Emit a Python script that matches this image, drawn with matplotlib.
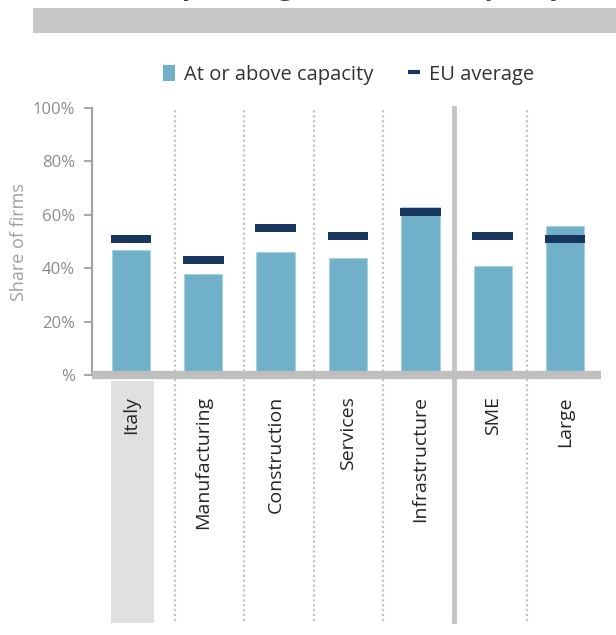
import matplotlib
matplotlib.use("Agg")
import matplotlib.pyplot as plt
from matplotlib.patches import Rectangle, Patch
from matplotlib.lines import Line2D
import matplotlib.transforms as mtransforms

plt.rcParams['font.family'] = ['Open Sans', 'DejaVu Sans']

# data (share of firms, %)
categories = ['Italy', 'Manufacturing', 'Construction', 'Services', 'Infrastructure', 'SME', 'Large']
at_capacity = [47, 38, 46, 44, 63, 41, 56]
eu_average = [51, 43, 55, 52, 61, 52, 51]
yticks = [0, 20, 40, 60, 80, 100]
ytick_labels = ['%', '20%', '40%', '60%', '80%', '100%']

bar_col = '#71b0c9'
eu_col = '#17375e'
grey_txt = '#8c8c8c'

fig = plt.figure(figsize=(6.16, 6.35), dpi=100)
ax = fig.add_axes([0.149, 0.409, 0.826, 0.421])

x = list(range(len(categories)))
ax.bar(x, at_capacity, width=0.53, color=bar_col, edgecolor='#a9d0e0', linewidth=0.8, zorder=2)
eu_bottom = [v - 1.5 for v in eu_average]
ax.bar(x, [3] * len(x), bottom=eu_bottom, width=0.56, color=eu_col, zorder=3)

ax.set_xlim(-0.54, 6.49)
ax.set_ylim(0, 100)

# separators (dotted between groups, solid between sector and size blocks)
trans = mtransforms.blended_transform_factory(ax.transData, ax.transAxes)
seps = [0.61, 1.56, 2.53, 3.48, 5.47]
for s in seps:
    ax.plot([s, s], [-0.92, 1.0], transform=trans, color='#c4c4c4', lw=1.6,
            ls=(0, (1, 1.2)), clip_on=False, zorder=1)
ax.plot([4.47, 4.47], [-0.92, 1.0], transform=trans, color='#c4c4c4', lw=3.5,
        clip_on=False, zorder=1)

# grey box behind Italy label
ax.add_patch(Rectangle((-0.28, -0.925), 0.6, 0.903, transform=trans,
                       facecolor='#e0e0e0', edgecolor='none', clip_on=False, zorder=0))

ax.set_xticks(x)
ax.set_xticklabels(categories, rotation=90, fontsize=14, color='#262626')
ax.tick_params(axis='x', length=0, pad=15)

ax.set_yticks(yticks)
ax.set_yticklabels(ytick_labels, fontsize=12, color=grey_txt)
ax.tick_params(axis='y', length=6, width=1.3, color='#a0a0a0', direction='out', pad=6)
ax.set_ylabel('Share of firms', fontsize=13, color='#a0a0a0', labelpad=3)

for side in ['top', 'right']:
    ax.spines[side].set_visible(False)
ax.spines['left'].set_color('#a0a0a0')
ax.spines['left'].set_linewidth(1.5)
ax.spines['bottom'].set_color('#bfbfbf')
ax.spines['bottom'].set_linewidth(6)
ax.spines['bottom'].set_capstyle('butt')
ax.spines['bottom'].set_zorder(4)

handles = [Patch(facecolor=bar_col, edgecolor='none'),
           Line2D([0], [0], color=eu_col, lw=3, solid_capstyle='butt')]
fig.legend(handles, ['At or above capacity', 'EU average'], loc='center',
           bbox_to_anchor=(0.566, 0.882), ncol=2, frameon=False, fontsize=14.5,
           handlelength=0.6, handleheight=0.9, handletextpad=0.45, columnspacing=1.7,
           labelcolor='#333333')

# header band and cut-off title
fig.patches.append(Rectangle((0.054, 0.948), 0.946, 0.039, transform=fig.transFigure,
                             facecolor='#c8c8c6', edgecolor='none'))
fig.text(0.918, 1.0078, 'Share of firms operating at or above capacity', ha='right',
         va='baseline', fontsize=19, fontweight='bold', color='#404040')

fig.savefig('out.png', dpi=100)
